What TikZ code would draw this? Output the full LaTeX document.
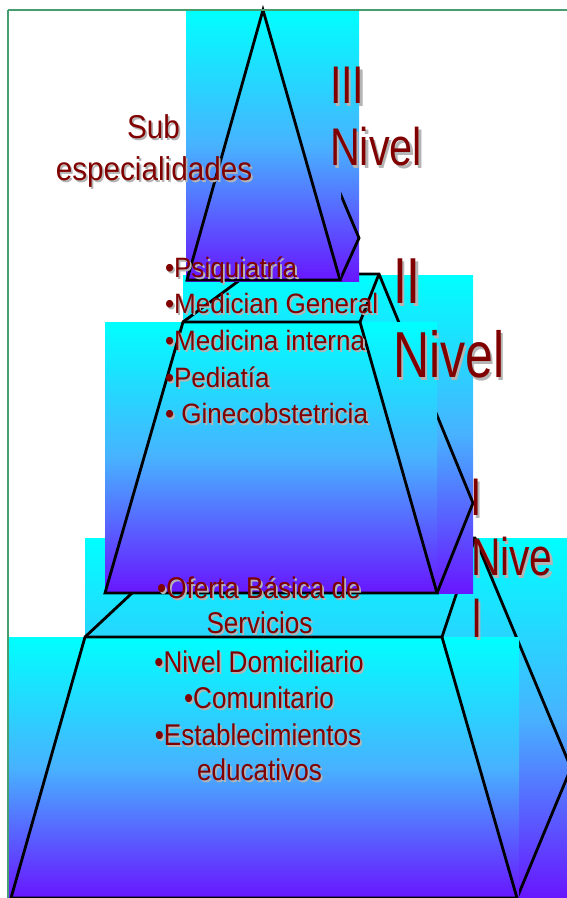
\documentclass[tikz,border=0pt]{standalone}
\usepackage{fontspec}
\setmainfont{Liberation Sans}
\usepackage{graphicx}
\definecolor{dred}{RGB}{128,0,0}
\definecolor{shg}{RGB}{180,180,180}
\definecolor{topc}{RGB}{0,255,255}
\definecolor{midc}{RGB}{72,178,255}
\definecolor{botc}{RGB}{104,22,255}
\definecolor{framec}{RGB}{70,158,112}
\newcommand{\shd}[2]{\leavevmode\rlap{\kern#1\raisebox{-#1}{\color{shg}#2}}#2}
\tikzset{
  grad/.style={top color=topc, bottom color=botc, middle color=midc, draw=none},
  edge/.style={draw=black, line width=2.8pt},
  lab/.style={inner sep=0pt, outer sep=0pt, text=dred},
  big/.style={lab, font=\fontsize{53}{60}\selectfont, anchor=base west},
  bigger/.style={lab, font=\fontsize{65}{72}\selectfont, anchor=base west},
  mid/.style={lab, font=\fontsize{28}{34}\selectfont, anchor=base west},
  low/.style={lab, font=\fontsize{30}{36}\selectfont, anchor=base},
  subf/.style={lab, font=\fontsize{33}{40}\selectfont, anchor=base}
}
\begin{document}
\begin{tikzpicture}[x=1pt,y=-1pt]
\useasboundingbox (0,0) rectangle (567,898);
\begin{scope}
\clip (0,0) rectangle (567,898);
% ---- level I (bottom) : back part
\fill[grad] (85,538) rectangle (575,898);
\draw[edge] (191,538) -- (475,538) -- (571,768) -- (517,898);
\draw[edge] (475,538) -- (442,637);
\draw[edge] (191,538) -- (85,637);
% ---- level I : front part
\fill[grad] (8,637) rectangle (519,898);
\draw[edge] (85,637) -- (442,637) -- (517,898) -- (11,898) -- cycle;
% ---- level II : back part
\fill[grad] (183,275) rectangle (473,593);
\draw[edge] (248,274) -- (379,274) -- (473,503) -- (437,593);
\draw[edge] (248,274) -- (183,322);
\draw[edge] (379,274) -- (360,322);
% ---- level II : front part
\fill[grad] (105,322) rectangle (437,593);
\draw[edge] (183,322) -- (360,322) -- (437,593) -- (105,593) -- cycle;
% ---- level III (top) : back part
\fill[grad] (186,10) rectangle (359,281);
\draw[edge] (263,10) -- (359,238) -- (340,280);
% ---- level III : front part
\fill[grad] (186,10) rectangle (341,281);
\draw[edge] (263,10) -- (340,280) -- (187,280) -- cycle;
% ---- frame
\draw[framec, line width=2pt] (8,9.5) -- (600,9.5);
\draw[framec, line width=2pt] (8,9.5) -- (8,900);
\end{scope}
% ---- texts
\node[subf] (sub) at (153.5,138) {\scalebox{0.9}[1]{\shd{2pt}{Sub}}};
\node[subf] (esp) at (154,180) {\scalebox{0.9}[1]{\shd{2pt}{especialidades}}};
\node[big] (l3a) at (330,103) {\scalebox{0.78}[1]{\shd{3pt}{III}}};
\node[big] (l3b) at (330,165) {\scalebox{0.78}[1]{\shd{3pt}{Nivel}}};
\node[bigger] (l2a) at (393,303) {\scalebox{0.77}[1]{\shd{3pt}{II}}};
\node[bigger] (l2b) at (393,377) {\scalebox{0.77}[1]{\shd{3pt}{Nivel}}};
\node[big] (l1a) at (470,515) {\scalebox{0.77}[1]{\shd{3pt}{I}}};
\node[big] (l1b) at (471,575) {\scalebox{0.77}[1]{\shd{3pt}{Nive}}};
\node[big] (l1c) at (472,637) {\scalebox{0.77}[1]{\shd{3pt}{l}}};
\node[mid] (p1) at (165,277) {\scalebox{0.93}[1]{\shd{2pt}{•Psiquiatría}}};
\node[mid] (p2) at (165,313) {\scalebox{0.93}[1]{\shd{2pt}{•Medician General}}};
\node[mid] (p3) at (165,350) {\scalebox{0.93}[1]{\shd{2pt}{•Medicina interna}}};
\node[mid] (p4) at (165,387) {\scalebox{0.93}[1]{\shd{2pt}{•Pediatía}}};
\node[mid] (p5) at (165,423) {\scalebox{0.93}[1]{\shd{2pt}{• Ginecobstetricia}}};
\node[low] (o1) at (259,598) {\scalebox{0.87}[1]{\shd{2pt}{•Oferta Básica de}}};
\node[low] (o2) at (259.5,633) {\scalebox{0.87}[1]{\shd{2pt}{Servicios}}};
\node[low] (o3) at (259,672) {\scalebox{0.87}[1]{\shd{2pt}{•Nivel Domiciliario}}};
\node[low] (o4) at (259,708) {\scalebox{0.87}[1]{\shd{2pt}{•Comunitario}}};
\node[low] (o5) at (258,745) {\scalebox{0.87}[1]{\shd{2pt}{•Establecimientos}}};
\node[low] (o6) at (259.5,780) {\scalebox{0.87}[1]{\shd{2pt}{educativos}}};
\end{tikzpicture}
\end{document}
